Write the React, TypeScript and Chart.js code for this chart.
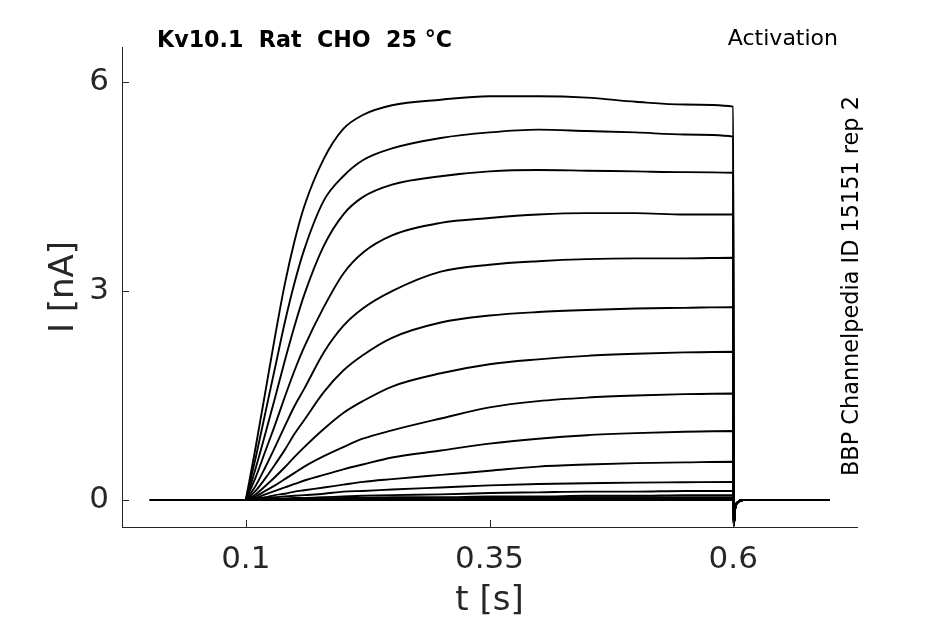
import { useEffect, useRef } from "react";
import { Chart, registerables } from "chart.js";

Chart.register(...registerables);

// time points (s) of the voltage step
const holdTimes = [0.001, 0.1];
const holdValues = [0, 0];
const stepTimes = [0.1, 0.11, 0.12, 0.13, 0.14, 0.15, 0.16, 0.18, 0.2, 0.22, 0.25, 0.3, 0.35, 0.4, 0.45, 0.5, 0.55, 0.6];
const tailTimes = [0.6005, 0.602, 0.605, 0.61, 0.699];
const tailValues = [-0.37, -0.12, -0.03, 0, 0];

// current (nA) of each sweep at stepTimes
const trace1 = [0, 0.75, 1.55, 2.35, 3.1, 3.72, 4.22, 4.9, 5.33, 5.53, 5.67, 5.75, 5.8, 5.8, 5.78, 5.72, 5.68, 5.65];
const trace2 = [0, 0.6, 1.25, 1.9, 2.55, 3.12, 3.6, 4.3, 4.65, 4.88, 5.05, 5.2, 5.28, 5.32, 5.3, 5.28, 5.25, 5.22];
const trace3 = [0, 0.45, 0.95, 1.47, 2.0, 2.5, 2.95, 3.65, 4.1, 4.35, 4.53, 4.65, 4.72, 4.74, 4.73, 4.72, 4.71, 4.7];
const trace4 = [0, 0.32, 0.7, 1.08, 1.48, 1.86, 2.2, 2.77, 3.25, 3.55, 3.8, 3.98, 4.05, 4.1, 4.12, 4.12, 4.1, 4.1];
const trace5 = [0, 0.2, 0.47, 0.76, 1.06, 1.35, 1.6, 2.12, 2.5, 2.75, 3.0, 3.28, 3.38, 3.43, 3.46, 3.47, 3.47, 3.48];
const trace6 = [0, 0.13, 0.31, 0.51, 0.72, 0.95, 1.15, 1.55, 1.86, 2.08, 2.33, 2.55, 2.65, 2.7, 2.73, 2.75, 2.76, 2.77];
const trace7 = [0, 0.08, 0.2, 0.33, 0.47, 0.62, 0.76, 1.02, 1.25, 1.42, 1.63, 1.82, 1.95, 2.02, 2.07, 2.1, 2.12, 2.13];
const trace8 = [0, 0.05, 0.13, 0.21, 0.3, 0.39, 0.48, 0.63, 0.76, 0.88, 1.0, 1.17, 1.33, 1.42, 1.47, 1.5, 1.52, 1.53];
const trace9 = [0, 0.03, 0.08, 0.13, 0.18, 0.23, 0.28, 0.36, 0.44, 0.51, 0.61, 0.71, 0.81, 0.88, 0.93, 0.96, 0.98, 0.99];
const trace10 = [0, 0.02, 0.04, 0.07, 0.09, 0.12, 0.14, 0.18, 0.22, 0.26, 0.3, 0.36, 0.42, 0.48, 0.51, 0.53, 0.54, 0.55];
const trace11 = [0, 0.01, 0.03, 0.04, 0.05, 0.06, 0.07, 0.09, 0.12, 0.13, 0.15, 0.18, 0.21, 0.23, 0.24, 0.25, 0.255, 0.26];
const trace12 = [0, 0.01, 0.01, 0.02, 0.02, 0.03, 0.03, 0.04, 0.05, 0.06, 0.07, 0.08, 0.1, 0.11, 0.12, 0.12, 0.13, 0.13];
const trace13 = [0, 0, 0.01, 0.01, 0.01, 0.02, 0.02, 0.02, 0.03, 0.03, 0.04, 0.04, 0.05, 0.05, 0.06, 0.06, 0.07, 0.07];
const trace14 = [0, 0, 0, 0.01, 0.01, 0.01, 0.01, 0.01, 0.02, 0.02, 0.02, 0.03, 0.03, 0.03, 0.04, 0.04, 0.04, 0.04];
const trace15 = [0, 0, 0, 0, 0, 0, 0.01, 0.01, 0.01, 0.01, 0.01, 0.01, 0.02, 0.02, 0.02, 0.02, 0.02, 0.02];
const trace16 = [0, 0, 0, 0, 0, 0, 0, 0, 0, 0, 0, 0, 0, 0, 0, 0, 0, 0];

const traces = [trace1, trace2, trace3, trace4, trace5, trace6, trace7, trace8, trace9, trace10, trace11, trace12, trace13, trace14, trace15, trace16];

const xTicks = [0.1, 0.35, 0.6];
const xTickLabels = ["0.1", "0.35", "0.6"];
const yTicks = [0, 3, 6];
const yTickLabels = ["0", "3", "6"];

const FONT = "'DejaVu Sans', sans-serif";
const AXIS = "#262626";

// MATLAB-style tick marks pointing into the plot
const innerTicks = {
  id: "innerTicks",
  afterDraw(chart: any) {
    const { ctx, chartArea, scales } = chart;
    ctx.save();
    ctx.strokeStyle = AXIS;
    ctx.lineWidth = 1;
    ctx.beginPath();
    xTicks.forEach((v) => {
      const px = Math.round(scales.x.getPixelForValue(v)) + 0.5;
      ctx.moveTo(px, chartArea.bottom);
      ctx.lineTo(px, chartArea.bottom - 7);
    });
    yTicks.forEach((v) => {
      const py = Math.round(scales.y.getPixelForValue(v)) + 0.5;
      ctx.moveTo(chartArea.left, py);
      ctx.lineTo(chartArea.left + 7, py);
    });
    ctx.stroke();
    ctx.restore();
  },
};

const lineStyle = {
  borderColor: "#000",
  borderWidth: 1.9,
  pointRadius: 0,
  cubicInterpolationMode: "monotone" as const,
  fill: false,
};

export default function App() {
  const canvasRef = useRef<HTMLCanvasElement | null>(null);
  const chartRef = useRef<Chart | null>(null);

  useEffect(() => {
    document.body.style.margin = "0";
    if (chartRef.current) chartRef.current.destroy();

    const holding = {
      ...lineStyle,
      data: holdTimes.map((t, i) => ({ x: t, y: holdValues[i] })),
    };
    const sweeps = traces.map((tr) => ({
      ...lineStyle,
      data: [
        ...stepTimes.map((t, i) => ({ x: t, y: tr[i] })),
        ...tailTimes.map((t, i) => ({ x: t, y: tailValues[i] })),
      ],
    }));

    chartRef.current = new Chart(canvasRef.current!, {
      type: "line",
      data: { datasets: [holding, ...sweeps] },
      options: {
        animation: false,
        responsive: true,
        maintainAspectRatio: false,
        layout: { padding: { top: 47, right: 88, left: 0, bottom: 0 } },
        plugins: { legend: { display: false }, tooltip: { enabled: false } },
        scales: {
          x: {
            type: "linear",
            min: -0.027,
            max: 0.727,
            afterBuildTicks: (s: any) => {
              s.ticks = xTicks.map((v) => ({ value: v }));
            },
            afterFit: (s: any) => {
              s.height = 97;
            },
            ticks: {
              autoSkip: false,
              maxRotation: 0,
              padding: 14,
              color: AXIS,
              font: { family: FONT, size: 31 },
              callback: (v: any) => xTickLabels[xTicks.indexOf(Number(v))] ?? "",
            },
            grid: { display: false, drawTicks: false },
            border: { display: true, color: AXIS, width: 1 },
            title: {
              display: true,
              text: "t [s]",
              color: AXIS,
              font: { family: FONT, size: 34 },
              padding: { top: 0, bottom: 2 },
            },
          },
          y: {
            type: "linear",
            min: -0.388,
            max: 6.507,
            afterBuildTicks: (s: any) => {
              s.ticks = yTicks.map((v) => ({ value: v }));
            },
            afterFit: (s: any) => {
              s.width = 122;
            },
            ticks: {
              autoSkip: false,
              padding: 13,
              color: AXIS,
              font: { family: FONT, size: 31 },
              callback: (v: any) => yTickLabels[yTicks.indexOf(Number(v))] ?? "",
            },
            grid: { display: false, drawTicks: false },
            border: { display: true, color: AXIS, width: 1 },
            title: {
              display: true,
              text: "I [nA]",
              color: AXIS,
              font: { family: FONT, size: 34 },
              padding: { top: 44, bottom: 0 },
            },
          },
        },
      },
      plugins: [innerTicks],
    });

    return () => {
      if (chartRef.current) {
        chartRef.current.destroy();
        chartRef.current = null;
      }
    };
  }, []);

  return (
    <div style={{ position: "relative", width: 945, height: 624, background: "#fff", fontFamily: FONT }}>
      <canvas ref={canvasRef} />
      <div
        style={{
          position: "absolute",
          left: 157,
          top: 28,
          fontSize: 22.2,
          fontWeight: "bold",
          lineHeight: 1,
          whiteSpace: "pre",
          color: "#000",
        }}
      >
        {"Kv10.1  Rat  CHO  25 °C"}
      </div>
      <div
        style={{
          position: "absolute",
          right: 107,
          top: 27,
          fontSize: 22,
          lineHeight: 1,
          whiteSpace: "pre",
          color: "#000",
        }}
      >
        Activation
      </div>
      <div
        style={{
          position: "absolute",
          left: 839,
          top: 476,
          fontSize: 22.4,
          lineHeight: 1,
          whiteSpace: "pre",
          color: "#000",
          transformOrigin: "0 0",
          transform: "rotate(-90deg)",
        }}
      >
        BBP Channelpedia ID 15151 rep 2
      </div>
    </div>
  );
}
